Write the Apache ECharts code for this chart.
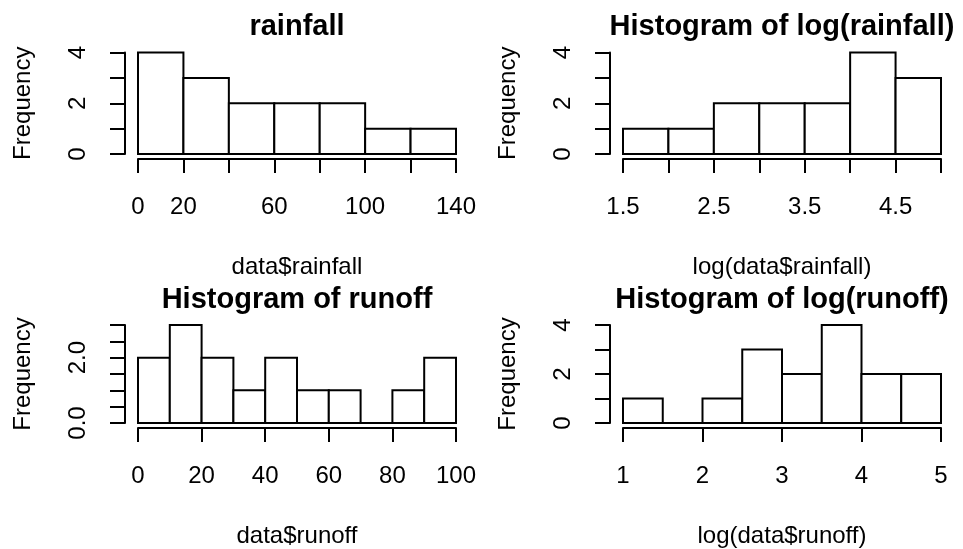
<!DOCTYPE html>
<html>
<head>
<meta charset="utf-8">
<script src="https://cdn.jsdelivr.net/npm/echarts@6/dist/echarts.min.js"></script>
<style>
  html, body { margin: 0; padding: 0; background: #fff; }
  #chart { width: 963px; height: 549px; }
</style>
</head>
<body>
<div id="chart"></div>
<script>
// Histogram bins (break points) and counts for each panel
const rainfallBreaks = [0, 20, 40, 60, 80, 100, 120, 140];
const rainfallCounts = [4, 3, 2, 2, 2, 1, 1];

const logRainfallBreaks = [1.5, 2, 2.5, 3, 3.5, 4, 4.5, 5];
const logRainfallCounts = [1, 1, 2, 2, 2, 4, 3];

const runoffBreaks = [0, 10, 20, 30, 40, 50, 60, 70, 80, 90, 100];
const runoffCounts = [2, 3, 2, 1, 2, 1, 1, 0, 1, 2];

const logRunoffBreaks = [1, 1.5, 2, 2.5, 3, 3.5, 4, 4.5, 5];
const logRunoffCounts = [1, 0, 1, 3, 2, 4, 2, 2];

// Tick labels that get printed on each axis
const rainfallXLabels = ['0', '20', '60', '100', '140'];
const logRainfallXLabels = ['1.5', '2.5', '3.5', '4.5'];
const runoffXLabels = ['0', '20', '40', '60', '80', '100'];
const logRunoffXLabels = ['1', '2', '3', '4', '5'];
const countYLabels = ['0', '2', '4'];
const runoffYLabels = ['0.0', '2.0'];

const titles = ['rainfall', 'Histogram of log(rainfall)', 'Histogram of runoff', 'Histogram of log(runoff)'];
const xNames = ['data$rainfall', 'log(data$rainfall)', 'data$runoff', 'log(data$runoff)'];

const FONT = 'Liberation Sans, Arial, Helvetica, sans-serif';
const INK = '#000';

function binsToData(breaks, counts) {
  return counts.map((c, i) => [breaks[i], breaks[i + 1], c]);
}

const panels = [
  { breaks: rainfallBreaks, counts: rainfallCounts, xMin: 0, xMax: 140, xInt: 20, xLabels: rainfallXLabels,
    yMax: 4, yInt: 1, yLabels: countYLabels, yDigits: 0, left: 138, top: 52.5 },
  { breaks: logRainfallBreaks, counts: logRainfallCounts, xMin: 1.5, xMax: 5, xInt: 0.5, xLabels: logRainfallXLabels,
    yMax: 4, yInt: 1, yLabels: countYLabels, yDigits: 0, left: 623, top: 52.5 },
  { breaks: runoffBreaks, counts: runoffCounts, xMin: 0, xMax: 100, xInt: 20, xLabels: runoffXLabels,
    yMax: 3, yInt: 0.5, yLabels: runoffYLabels, yDigits: 1, left: 138, top: 325 },
  { breaks: logRunoffBreaks, counts: logRunoffCounts, xMin: 1, xMax: 5, xInt: 1, xLabels: logRunoffXLabels,
    yMax: 4, yInt: 1, yLabels: countYLabels, yDigits: 0, left: 623, top: 325 }
];

const PLOT_W = 318;
const PLOT_H = 101.5;

function fmtX(v) {
  return String(Math.round(v * 100) / 100);
}

const option = {
  backgroundColor: '#fff',
  animation: false,
  title: panels.map((p, i) => ({
    text: titles[i],
    left: p.left + PLOT_W / 2,
    top: p.top - 40,
    textAlign: 'center',
    padding: 0,
    textStyle: { fontFamily: FONT, fontWeight: 'bold', fontSize: 29, color: INK }
  })),
  grid: panels.map(p => ({
    left: p.left, top: p.top, width: PLOT_W, height: PLOT_H, containLabel: false
  })),
  xAxis: panels.map((p, i) => ({
    type: 'value',
    gridIndex: i,
    min: p.xMin,
    max: p.xMax,
    interval: p.xInt,
    offset: 5,
    name: xNames[i],
    nameLocation: 'middle',
    nameGap: 96,
    nameTextStyle: { fontFamily: FONT, fontSize: 24, color: INK },
    axisLine: { show: true, onZero: false, lineStyle: { color: INK, width: 2 } },
    axisTick: { show: true, length: 14, lineStyle: { color: INK, width: 2 } },
    splitLine: { show: false },
    axisLabel: {
      show: true,
      margin: 36,
      fontFamily: FONT,
      fontSize: 24,
      color: INK,
      showMinLabel: true,
      showMaxLabel: true,
      formatter: v => (p.xLabels.indexOf(fmtX(v)) >= 0 ? fmtX(v) : '')
    }
  })),
  yAxis: panels.map((p, i) => ({
    type: 'value',
    gridIndex: i,
    min: 0,
    max: p.yMax,
    interval: p.yInt,
    offset: 13,
    name: 'Frequency',
    nameLocation: 'middle',
    nameRotate: 90,
    nameGap: 90,
    nameTextStyle: { fontFamily: FONT, fontSize: 24, color: INK },
    axisLine: { show: true, onZero: false, lineStyle: { color: INK, width: 2 } },
    axisTick: { show: true, length: 15, lineStyle: { color: INK, width: 2 } },
    splitLine: { show: false },
    axisLabel: {
      show: true,
      rotate: 90,
      margin: 35,
      fontFamily: FONT,
      fontSize: 24,
      color: INK,
      showMinLabel: true,
      showMaxLabel: true,
      formatter: v => {
        const s = v.toFixed(p.yDigits);
        return p.yLabels.indexOf(s) >= 0 ? s : '';
      }
    }
  })),
  series: panels.map((p, i) => ({
    type: 'custom',
    xAxisIndex: i,
    yAxisIndex: i,
    clip: false,
    encode: { x: [0, 1], y: 2 },
    data: binsToData(p.breaks, p.counts),
    renderItem: (params, api) => {
      const topLeft = api.coord([api.value(0), api.value(2)]);
      const bottomRight = api.coord([api.value(1), 0]);
      return {
        type: 'rect',
        shape: {
          x: topLeft[0],
          y: topLeft[1],
          width: bottomRight[0] - topLeft[0],
          height: bottomRight[1] - topLeft[1]
        },
        style: { fill: '#fff', stroke: INK, lineWidth: 2 }
      };
    }
  }))
};

const chart = echarts.init(document.getElementById('chart'), null, { renderer: 'canvas' });
chart.setOption(option);
</script>
</body>
</html>
